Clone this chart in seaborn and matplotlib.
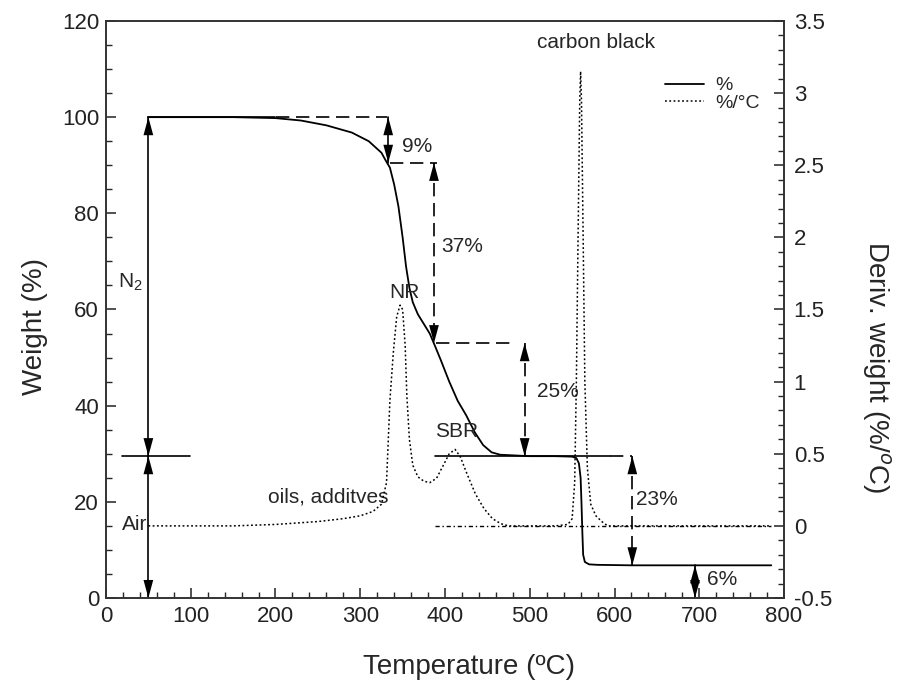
import matplotlib
matplotlib.use("Agg")
import matplotlib.pyplot as plt
import seaborn as sns
import numpy as np
import pandas as pd
from matplotlib.ticker import MultipleLocator, FormatStrFormatter

# TGA weight curve (N2 -> Air)
temp_w = [50, 100, 150, 200, 230, 260, 290, 310, 325, 330, 335, 340, 345, 350, 354,
          358, 362, 368, 375, 382, 388, 395, 405, 415, 425, 435, 445, 455, 465, 500,
          530, 550, 555, 558, 560, 561, 562, 563, 565, 570, 580, 620, 700, 785]
weight = [100, 100, 100, 99.8, 99.3, 98.3, 96.8, 95.0, 92.6, 91.0, 89.5, 86.0, 81.5, 75.0, 69.0,
          64.5, 61.5, 59.0, 57.0, 55.0, 52.5, 49.5, 45.0, 41.0, 38.0, 34.5, 31.8, 30.3, 29.8, 29.5,
          29.5, 29.4, 29.1, 28.0, 25.0, 20.0, 14.0, 9.0, 7.5, 7.0, 6.9, 6.8, 6.8, 6.8]

# derivative curve (%/C)
temp_d = [50, 100, 150, 200, 250, 280, 300, 315, 325, 331, 335, 339, 343, 347, 350,
          353, 355, 358, 362, 368, 375, 382, 390, 398, 405, 412, 418, 426, 436, 446,
          456, 466, 475, 500, 530, 545, 550, 553, 555, 557, 559, 560, 561, 563, 565,
          568, 572, 578, 585, 592, 650, 700, 785]
deriv = [0, 0, 0, 0.01, 0.03, 0.05, 0.07, 0.10, 0.15, 0.30, 0.87, 1.20, 1.45, 1.53, 1.50,
         1.25, 0.90, 0.60, 0.42, 0.34, 0.31, 0.30, 0.33, 0.42, 0.50, 0.53, 0.48, 0.36, 0.22, 0.12,
         0.05, 0.015, 0, 0, 0, 0.01, 0.05, 0.30, 1.00, 2.00, 2.95, 3.15, 2.95, 2.00, 1.00,
         0.40, 0.15, 0.07, 0.03, 0, 0, 0, 0]

df_w = pd.DataFrame({"T": temp_w, "w": weight})
df_d = pd.DataFrame({"T": temp_d, "d": deriv})

sns.set_style("ticks")
plt.rcParams["font.family"] = ["Liberation Sans", "DejaVu Sans"]
plt.rcParams["mathtext.fontset"] = "custom"
plt.rcParams["mathtext.rm"] = "Liberation Sans"

fig = plt.figure(figsize=(9.09, 6.9), dpi=100)
ax = fig.add_axes([0.1166, 0.1333, 0.7459, 0.8363])
ax2 = ax.twinx()

sns.lineplot(data=df_w, x="T", y="w", ax=ax, color="k", lw=1.3, label="%", legend=False)
sns.lineplot(data=df_d, x="T", y="d", ax=ax2, color="k", lw=1.1, label="%/°C",
             linestyle=(0, (1.2, 1.6)), legend=False)
# derivative baseline in air
ax2.plot([388, 785], [0, 0], color="k", lw=1.0, linestyle=(0, (3, 2, 1, 2)))

ax.set_xlim(0, 800)
ax.set_ylim(0, 120)
ax2.set_ylim(-0.5, 3.5)

ax.xaxis.set_major_locator(MultipleLocator(100))
ax.xaxis.set_minor_locator(MultipleLocator(20))
ax.yaxis.set_major_locator(MultipleLocator(20))
ax.yaxis.set_minor_locator(MultipleLocator(5))
ax2.yaxis.set_major_locator(MultipleLocator(0.5))
ax2.yaxis.set_minor_locator(MultipleLocator(0.1))
ax2.yaxis.set_major_formatter(FormatStrFormatter("%g"))

for a in (ax, ax2):
    a.tick_params(which="major", direction="in", length=7, width=1.1, labelsize=16, colors="#222")
    a.tick_params(which="minor", direction="in", length=4, width=1.0)
    for s in a.spines.values():
        s.set_linewidth(1.2)
        s.set_color("#333")
        s.set_visible(True)
ax.tick_params(axis="y", right=False, pad=5)
ax.tick_params(axis="y", which="minor", right=False)
ax.tick_params(axis="x", pad=6)
ax2.tick_params(axis="y", pad=7)

ax.set_xlabel("Temperature (ºC)", fontsize=20)
ax.set_ylabel("Weight (%)", fontsize=20)
ax2.set_ylabel("Deriv. weight (%/$^{o}$C)", fontsize=20, rotation=270)
ax.xaxis.set_label_coords(0.535, -0.097)
ax.yaxis.set_label_coords(-0.085, 0.47)
ax2.yaxis.set_label_coords(1.16, 0.40)


def head(x, y, up):
    off = -6 if up else 6
    ax.annotate("", xy=(x, y), xytext=(x, y + off),
                arrowprops=dict(arrowstyle="-|>,head_length=1.3,head_width=0.35",
                                color="k", lw=0, shrinkA=0, shrinkB=0))


def vline(x, y0, y1, dashed=False):
    ls = (0, (8, 4)) if dashed else "-"
    ax.plot([x, x], [y0, y1], color="k", lw=1.2, linestyle=ls)
    head(x, y0, True)
    head(x, y1, False)


def hline(y, x0, x1, dashed=False):
    ls = (0, (8, 4)) if dashed else "-"
    ax.plot([x0, x1], [y, y], color="k", lw=1.2, linestyle=ls)


# N2 / Air markers
vline(50, 100, 29.5)
vline(50, 29.5, 0)
hline(29.5, 19, 99)
hline(100, 50, 200)

# step annotations
hline(100, 201, 331, dashed=True)
vline(333, 100, 90.5)
hline(90.5, 335, 390, dashed=True)
vline(387, 90.5, 53, dashed=True)
hline(53, 389, 480, dashed=True)
vline(494, 53, 29.5, dashed=True)
hline(29.5, 388, 595)
hline(29.5, 595, 621, dashed=True)
vline(621, 29.5, 6.8, dashed=True)
vline(695, 6.8, 0)

fs = 15
ax.text(349, 94, "9%", fontsize=fs, va="center")
ax.text(396, 73, "37%", fontsize=fs, va="center")
ax.text(509, 43, "25%", fontsize=fs, va="center")
ax.text(625, 20.4, "23%", fontsize=fs, va="center")
ax.text(709, 3.8, "6%", fontsize=fs, va="center")
ax.text(14, 65.6, "N$_2$", fontsize=fs, va="center")
ax.text(19, 15.2, "Air", fontsize=fs, va="center")
ax.text(334, 63.5, "NR", fontsize=fs, va="center")
ax.text(388, 34.6, "SBR", fontsize=fs, va="center")
ax.text(191, 21, "oils, additves", fontsize=fs, va="center")
ax.text(508, 115.5, "carbon black", fontsize=fs, va="center")

handles = [ax.get_lines()[0], ax2.get_lines()[0]]
ax2.legend(handles, ["%", "%/°C"], loc="upper left", bbox_to_anchor=(0.81, 0.92),
           frameon=False, fontsize=14, handlelength=2.0, labelspacing=0.0,
           handletextpad=0.6, borderpad=0)

fig.savefig("out.png", dpi=100)
